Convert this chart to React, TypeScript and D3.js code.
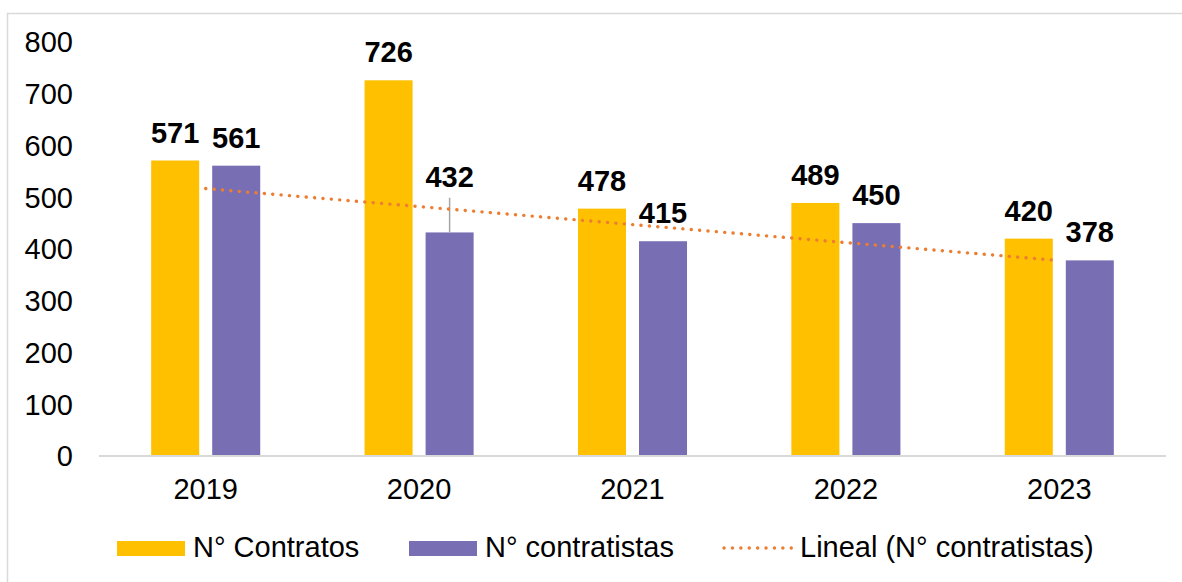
import React, { useRef, useEffect } from 'react';
import * as d3 from 'd3';

const years = ['2019', '2020', '2021', '2022', '2023'];
const contratos = [571, 726, 478, 489, 420];
const contratistas = [561, 432, 415, 450, 378];
const errorPlus = [0, 67, 0, 0, 0];
const yTicks = [0, 100, 200, 300, 400, 500, 600, 700, 800];
const seriesNames = ['N° Contratos', 'N° contratistas'];
const trendName = 'Lineal (N° contratistas)';

const W = 1182;
const H = 582;
const FONT = '"Liberation Sans", Arial, sans-serif';
const YELLOW = '#FFC000';
const PURPLE = '#776EB4';
const ORANGE = '#ED7D31';

export default function App() {
  const svgRef = useRef<SVGSVGElement>(null);

  useEffect(() => {
    if (!svgRef.current) return;
    const svg = d3.select(svgRef.current);
    svg.selectAll('*').remove();

    const left = 99, right = 1166, top = 42, bottom = 456;

    // outer frame
    svg.append('rect')
      .attr('x', 7.5).attr('y', 13.5)
      .attr('width', 1200).attr('height', 600)
      .attr('fill', 'none').attr('stroke', '#d9d9d9').attr('stroke-width', 1.5);

    const x0 = d3.scaleBand().domain(years).range([left, right]).padding(0);
    const x1 = d3.scaleBand().domain(seriesNames).range([0, x0.bandwidth()])
      .paddingInner(0.213).paddingOuter(0.855);
    const y = d3.scaleLinear().domain([0, 800]).range([bottom, top]);

    // y tick labels
    svg.append('g').selectAll('text')
      .data(yTicks).enter().append('text')
      .attr('x', 73).attr('y', d => y(d))
      .attr('dy', '0.36em')
      .attr('text-anchor', 'end')
      .attr('font-family', FONT).attr('font-size', 29)
      .attr('fill', '#000')
      .text(d => d);

    const rows = years.map((yr, i) => ({ yr, vals: [contratos[i], contratistas[i]], errs: [0, errorPlus[i]] }));
    const colors = [YELLOW, PURPLE];

    const groups = svg.append('g').selectAll('g')
      .data(rows).enter().append('g')
      .attr('transform', d => `translate(${x0(d.yr)},0)`);

    groups.selectAll('rect')
      .data(d => d.vals.map((v, k) => ({ v, k })))
      .enter().append('rect')
      .attr('x', d => x1(seriesNames[d.k]) || 0)
      .attr('y', d => y(d.v))
      .attr('width', x1.bandwidth())
      .attr('height', d => bottom - y(d.v))
      .attr('fill', d => colors[d.k]);

    // error bar (contratistas, plus only)
    groups.filter(d => d.errs[1] > 0).append('line')
      .attr('x1', (x1(seriesNames[1]) || 0) + x1.bandwidth() / 2)
      .attr('x2', (x1(seriesNames[1]) || 0) + x1.bandwidth() / 2)
      .attr('y1', d => y(d.vals[1]))
      .attr('y2', d => y(d.vals[1] + d.errs[1]))
      .attr('stroke', '#a6a6a6').attr('stroke-width', 1.5);

    // axis baseline
    svg.append('line')
      .attr('x1', left).attr('x2', right)
      .attr('y1', bottom).attr('y2', bottom)
      .attr('stroke', '#d9d9d9').attr('stroke-width', 2);

    // linear trendline on contratistas
    const n = contratistas.length;
    const mx = d3.mean(d3.range(n)) || 0;
    const my = d3.mean(contratistas) || 0;
    const slope = d3.sum(contratistas, (v, i) => (i - mx) * (v - my)) / d3.sum(d3.range(n), i => (i - mx) ** 2);
    const icpt = my - slope * mx;
    const cx = (i: number) => (x0(years[i]) || 0) + x0.bandwidth() / 2;
    svg.append('line')
      .attr('x1', cx(0)).attr('y1', y(icpt))
      .attr('x2', cx(n - 1)).attr('y2', y(icpt + slope * (n - 1)))
      .attr('stroke', ORANGE).attr('stroke-width', 3.4)
      .attr('stroke-linecap', 'round')
      .attr('stroke-dasharray', '0.1 8.3');

    // value labels
    groups.selectAll('text.val')
      .data(d => d.vals.map((v, k) => ({ v, k, e: d.errs[k] })))
      .enter().append('text')
      .attr('class', 'val')
      .attr('x', d => (x1(seriesNames[d.k]) || 0) + x1.bandwidth() / 2)
      .attr('y', d => (d.e > 0 ? y(d.v + d.e) - 11 : y(d.v) - 18))
      .attr('text-anchor', 'middle')
      .attr('font-family', FONT).attr('font-size', 29).attr('font-weight', 'bold')
      .attr('fill', '#000')
      .text(d => d.v);

    // x labels
    svg.append('g').selectAll('text')
      .data(years).enter().append('text')
      .attr('x', d => (x0(d) || 0) + x0.bandwidth() / 2)
      .attr('y', 499)
      .attr('text-anchor', 'middle')
      .attr('font-family', FONT).attr('font-size', 29)
      .attr('fill', '#000')
      .text(d => d);

    // legend
    const lg = svg.append('g');
    lg.append('rect').attr('x', 117).attr('y', 541).attr('width', 68).attr('height', 15).attr('fill', YELLOW);
    lg.append('text').attr('x', 193).attr('y', 557)
      .attr('font-family', FONT).attr('font-size', 29).attr('fill', '#000').text(seriesNames[0]);
    lg.append('rect').attr('x', 409).attr('y', 541).attr('width', 68).attr('height', 15).attr('fill', PURPLE);
    lg.append('text').attr('x', 485).attr('y', 557)
      .attr('font-family', FONT).attr('font-size', 29).attr('fill', '#000').text(seriesNames[1]);
    lg.append('line').attr('x1', 724).attr('x2', 793).attr('y1', 548).attr('y2', 548)
      .attr('stroke', ORANGE).attr('stroke-width', 3.4)
      .attr('stroke-linecap', 'round').attr('stroke-dasharray', '0.1 8.3');
    lg.append('text').attr('x', 800).attr('y', 557)
      .attr('font-family', FONT).attr('font-size', 29).attr('fill', '#000').text(trendName);
  }, []);

  return (
    <svg ref={svgRef} width={W} height={H}
      style={{ position: 'absolute', left: 0, top: 0, background: '#fff' }} />
  );
}
